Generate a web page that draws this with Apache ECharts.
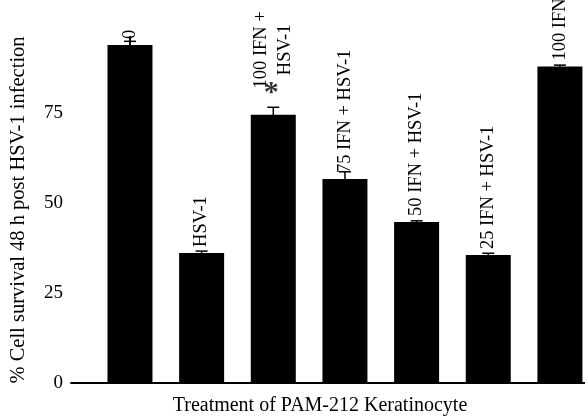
<!DOCTYPE html>
<html>
<head>
<meta charset="utf-8">
<script src="https://cdn.jsdelivr.net/npm/echarts@6/dist/echarts.min.js"></script>
<style>html,body{margin:0;padding:0;background:#fff}#c{width:585px;height:417px}</style>
</head>
<body>
<div id="c"></div>
<script>
const categories = ["0", "HSV-1", "100 IFN +\nHSV-1", "75 IFN + HSV-1", "50 IFN + HSV-1", "25 IFN + HSV-1", "100 IFN"];
const values = [93.8, 36.1, 74.4, 56.6, 44.7, 35.5, 87.8];
const errors = [1.0, 0.5, 2.1, 2.0, 0.3, 0.5, 0.4];
const significance = ["", "", "*", "", "", "", ""];
const yTicks = [0, 25, 50, 75];
const yAxisTitle = "% Cell survival 48 h post HSV-1 infection";
const xAxisTitle = "Treatment of PAM-212 Keratinocyte";

const FONT = '"Liberation Serif", "Times New Roman", serif';
const chart = echarts.init(document.getElementById('c'));

const barData = values.map((v, i) => {
  const item = { value: [i, v] };
  if (categories[i].indexOf('\n') >= 0) {
    item.label = { align: 'center', distance: 65, lineHeight: 24 };
  }
  return item;
});
const errData = values.map((v, i) => [i, v, errors[i]]);
const sigData = [];
significance.forEach((s, i) => { if (s) sigData.push({ value: [i, values[i] + errors[i]], name: s }); });

chart.setOption({
  animation: false,
  backgroundColor: '#fff',
  title: {
    text: xAxisTitle,
    left: 315, top: 391, textAlign: 'center',
    textStyle: { fontFamily: FONT, fontSize: 20, fontWeight: 'normal', color: '#000' }
  },
  grid: { left: 71, right: 0, top: 37, bottom: 34, containLabel: false },
  xAxis: {
    type: 'value', min: -0.823, max: 6.35,
    axisLine: { show: true, lineStyle: { color: '#000', width: 2 } },
    axisTick: { show: false }, axisLabel: { show: false }, splitLine: { show: false }
  },
  yAxis: {
    type: 'value', min: 0, max: 96, interval: 25,
    name: yAxisTitle, nameLocation: 'middle', nameGap: 42,
    nameTextStyle: { fontFamily: FONT, fontSize: 20.5, color: '#000' },
    axisLine: { show: true, lineStyle: { color: '#000', width: 2 } },
    axisTick: { show: true, length: 6, customValues: yTicks, lineStyle: { color: '#000', width: 2 } },
    axisLabel: { customValues: yTicks, fontFamily: FONT, fontSize: 19, color: '#000', margin: 8 },
    splitLine: { show: false }
  },
  series: [
    {
      type: 'bar', data: barData, barWidth: 45,
      itemStyle: { color: '#000' },
      label: {
        show: true, position: 'top', rotate: 90, align: 'left', verticalAlign: 'middle',
        distance: 6, fontFamily: FONT, fontSize: 18.5, color: '#000',
        formatter: p => categories[p.dataIndex]
      }
    },
    {
      type: 'custom', data: errData, z: 5,
      renderItem: (params, api) => {
        const x = api.value(0), v = api.value(1), e = api.value(2);
        const top = api.coord([x, v + e]);
        const bot = api.coord([x, v - e]);
        const hw = 6;
        const st = { stroke: '#000', lineWidth: 1.5 };
        return { type: 'group', children: [
          { type: 'line', shape: { x1: top[0], y1: top[1], x2: bot[0], y2: bot[1] }, style: st },
          { type: 'line', shape: { x1: top[0] - hw, y1: top[1], x2: top[0] + hw, y2: top[1] }, style: st }
        ] };
      }
    },
    {
      type: 'scatter', data: sigData, symbolSize: 0, z: 6,
      label: {
        show: true, position: 'top', distance: -1, offset: [-2, 0], fontFamily: FONT, fontSize: 30, fontWeight: 'bold', color: '#000',
        formatter: p => p.name
      }
    }
  ]
});
</script>
</body>
</html>
